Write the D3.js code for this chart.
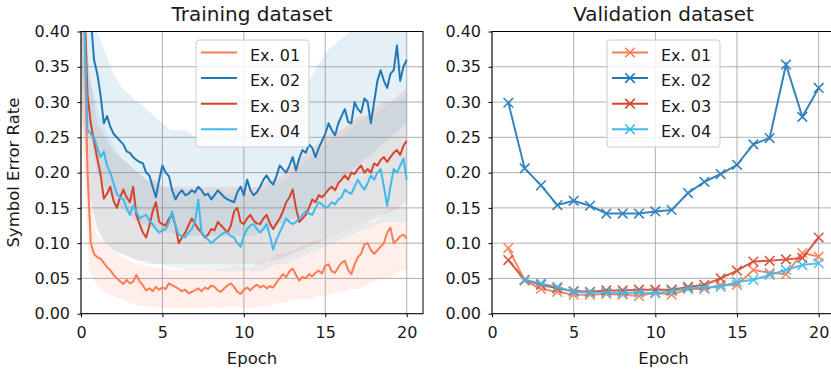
<!DOCTYPE html>
<html>
<head>
<meta charset="utf-8">
<script src="https://cdn.jsdelivr.net/npm/d3@7"></script>
<style>
  body { margin: 0; background: #fff; }
  svg text { font-family: "DejaVu Sans", sans-serif; fill: #1a1a1a; }
</style>
</head>
<body>
<svg id="chart" width="831" height="372"></svg>
<script>
// series names + colours
const names = ['Ex. 01', 'Ex. 02', 'Ex. 03', 'Ex. 04']
const colors = ['#fb7c55', '#1f78b8', '#d5442b', '#3fbaea']
const yTicks = [0, 0.05, 0.1, 0.15, 0.2, 0.25, 0.3, 0.35, 0.4]
const xTicks = [0, 5, 10, 15, 20]

// training, smoothed curves, one value every 0.2 epoch (0 .. 20)
const train01 = [0.60, 0.42, 0.20, 0.10, 0.085, 0.08, 0.078, 0.072, 0.066, 0.062,
  0.055, 0.05, 0.046, 0.042, 0.048, 0.043, 0.045, 0.055, 0.046, 0.04,
  0.033, 0.036, 0.032, 0.038, 0.034, 0.037, 0.035, 0.043, 0.04, 0.038,
  0.035, 0.032, 0.034, 0.029, 0.031, 0.033, 0.036, 0.032, 0.037, 0.035,
  0.04, 0.038, 0.033, 0.031, 0.036, 0.04, 0.043, 0.038, 0.031, 0.028,
  0.034, 0.037, 0.033, 0.038, 0.041, 0.037, 0.04, 0.036, 0.039, 0.037,
  0.044, 0.05, 0.056, 0.052, 0.06, 0.064, 0.055, 0.047, 0.052, 0.05,
  0.056, 0.053, 0.058, 0.061, 0.057, 0.068, 0.07, 0.06, 0.058, 0.066,
  0.072, 0.075, 0.062, 0.056, 0.07, 0.08, 0.085, 0.098, 0.10, 0.09,
  0.085, 0.09, 0.095, 0.10, 0.115, 0.122, 0.10, 0.104, 0.11, 0.112, 0.107]
const train02 = [0.70, 0.60, 0.50, 0.42, 0.36, 0.34, 0.31, 0.27, 0.28, 0.265,
  0.255, 0.25, 0.245, 0.24, 0.23, 0.228, 0.222, 0.218, 0.215, 0.213,
  0.20, 0.196, 0.18, 0.165, 0.19, 0.21, 0.20, 0.195, 0.175, 0.162,
  0.17, 0.175, 0.168, 0.17, 0.175, 0.172, 0.18, 0.175, 0.168, 0.17,
  0.162, 0.168, 0.175, 0.17, 0.165, 0.162, 0.16, 0.158, 0.172, 0.18,
  0.168, 0.19, 0.175, 0.168, 0.172, 0.18, 0.19, 0.196, 0.188, 0.183,
  0.195, 0.21, 0.205, 0.20, 0.21, 0.222, 0.203, 0.22, 0.232, 0.228,
  0.24, 0.235, 0.222, 0.235, 0.245, 0.255, 0.27, 0.26, 0.253, 0.27,
  0.28, 0.29, 0.272, 0.27, 0.30, 0.29, 0.285, 0.305, 0.30, 0.27,
  0.30, 0.33, 0.345, 0.33, 0.32, 0.34, 0.345, 0.38, 0.33, 0.35, 0.36]
const train03 = [0.60, 0.45, 0.31, 0.27, 0.245, 0.22, 0.198, 0.163, 0.17, 0.18,
  0.16, 0.15, 0.165, 0.176, 0.165, 0.158, 0.18, 0.14, 0.127, 0.115,
  0.108, 0.125, 0.145, 0.158, 0.13, 0.127, 0.125, 0.135, 0.14, 0.125,
  0.10, 0.108, 0.115, 0.125, 0.135, 0.128, 0.12, 0.115, 0.108, 0.112,
  0.12, 0.118, 0.13, 0.125, 0.12, 0.115, 0.125, 0.145, 0.15, 0.13,
  0.127, 0.135, 0.14, 0.132, 0.128, 0.127, 0.135, 0.14, 0.128, 0.12,
  0.128, 0.135, 0.145, 0.158, 0.165, 0.176, 0.15, 0.13, 0.135, 0.14,
  0.15, 0.162, 0.158, 0.168, 0.165, 0.17, 0.176, 0.18, 0.175, 0.185,
  0.19, 0.196, 0.19, 0.20, 0.198, 0.205, 0.21, 0.20, 0.205, 0.20,
  0.213, 0.21, 0.218, 0.222, 0.215, 0.222, 0.228, 0.232, 0.225, 0.238, 0.245]
const train04 = [0.60, 0.42, 0.26, 0.255, 0.25, 0.235, 0.222, 0.23, 0.21, 0.20,
  0.185, 0.17, 0.165, 0.162, 0.15, 0.14, 0.153, 0.145, 0.135, 0.138,
  0.14, 0.132, 0.127, 0.12, 0.115, 0.118, 0.12, 0.13, 0.145, 0.125,
  0.112, 0.11, 0.108, 0.115, 0.12, 0.13, 0.162, 0.115, 0.11, 0.105,
  0.10, 0.104, 0.108, 0.112, 0.115, 0.115, 0.11, 0.108, 0.10, 0.095,
  0.11, 0.12, 0.125, 0.127, 0.12, 0.115, 0.12, 0.127, 0.11, 0.091,
  0.105, 0.115, 0.125, 0.135, 0.13, 0.127, 0.13, 0.135, 0.14, 0.145,
  0.142, 0.14, 0.15, 0.158, 0.155, 0.15, 0.152, 0.158, 0.155, 0.162,
  0.165, 0.176, 0.172, 0.17, 0.18, 0.19, 0.182, 0.176, 0.185, 0.196,
  0.19, 0.20, 0.205, 0.18, 0.153, 0.18, 0.205, 0.20, 0.21, 0.22, 0.19]

// training, spread of raw batches, every 0.5 epoch (0 .. 20)
const lo01 = [0.30, 0.06, 0.04, 0.03, 0.025, 0.02, 0.015, 0.012, 0.01, 0.01,
  0.008, 0.008, 0.008, 0.008, 0.008, 0.008, 0.01, 0.008, 0.01, 0.01,
  0.008, 0.008, 0.01, 0.01, 0.015, 0.015, 0.02, 0.02, 0.02, 0.025,
  0.025, 0.03, 0.03, 0.035, 0.035, 0.04, 0.045, 0.05, 0.05, 0.06, 0.06]
const hi01 = [0.45, 0.17, 0.11, 0.10, 0.09, 0.08, 0.075, 0.07, 0.068, 0.065,
  0.065, 0.062, 0.062, 0.065, 0.065, 0.065, 0.065, 0.062, 0.065, 0.07,
  0.065, 0.065, 0.075, 0.075, 0.085, 0.085, 0.09, 0.095, 0.10, 0.105,
  0.105, 0.11, 0.115, 0.12, 0.125, 0.13, 0.13, 0.14, 0.15, 0.15, 0.15]
const lo02 = [0.35, 0.26, 0.20, 0.18, 0.16, 0.15, 0.14, 0.13, 0.125, 0.12,
  0.115, 0.115, 0.11, 0.11, 0.11, 0.11, 0.11, 0.11, 0.11, 0.11,
  0.11, 0.11, 0.115, 0.12, 0.125, 0.13, 0.135, 0.14, 0.15, 0.16,
  0.17, 0.18, 0.19, 0.20, 0.21, 0.22, 0.23, 0.24, 0.25, 0.26, 0.27]
const hi02 = [0.50, 0.44, 0.40, 0.37, 0.34, 0.32, 0.31, 0.30, 0.29, 0.28,
  0.27, 0.26, 0.26, 0.26, 0.25, 0.25, 0.25, 0.25, 0.26, 0.26,
  0.26, 0.26, 0.27, 0.28, 0.29, 0.30, 0.31, 0.32, 0.33, 0.35,
  0.37, 0.38, 0.39, 0.40, 0.41, 0.42, 0.43, 0.44, 0.45, 0.45, 0.45]
const lo03 = [0.30, 0.17, 0.12, 0.10, 0.09, 0.085, 0.08, 0.075, 0.075, 0.07,
  0.07, 0.07, 0.07, 0.07, 0.07, 0.07, 0.07, 0.07, 0.07, 0.07,
  0.07, 0.07, 0.07, 0.075, 0.075, 0.08, 0.085, 0.09, 0.095, 0.10,
  0.105, 0.11, 0.115, 0.12, 0.125, 0.13, 0.135, 0.14, 0.145, 0.15, 0.16]
const hi03 = [0.50, 0.34, 0.27, 0.25, 0.23, 0.22, 0.21, 0.20, 0.19, 0.19,
  0.18, 0.18, 0.18, 0.18, 0.18, 0.18, 0.18, 0.18, 0.18, 0.18,
  0.18, 0.18, 0.18, 0.19, 0.19, 0.20, 0.21, 0.22, 0.23, 0.24,
  0.25, 0.26, 0.26, 0.27, 0.28, 0.28, 0.29, 0.30, 0.30, 0.31, 0.32]
const lo04 = [0.30, 0.17, 0.12, 0.10, 0.09, 0.085, 0.08, 0.075, 0.07, 0.07,
  0.07, 0.065, 0.065, 0.065, 0.065, 0.065, 0.065, 0.06, 0.06, 0.06,
  0.06, 0.06, 0.06, 0.065, 0.07, 0.07, 0.075, 0.08, 0.085, 0.09,
  0.095, 0.10, 0.105, 0.11, 0.115, 0.12, 0.125, 0.13, 0.13, 0.13, 0.13]
const hi04 = [0.50, 0.34, 0.29, 0.26, 0.24, 0.22, 0.21, 0.20, 0.19, 0.185,
  0.18, 0.18, 0.175, 0.175, 0.175, 0.17, 0.17, 0.17, 0.17, 0.17,
  0.17, 0.17, 0.175, 0.18, 0.185, 0.19, 0.20, 0.21, 0.22, 0.23,
  0.24, 0.25, 0.25, 0.26, 0.27, 0.28, 0.28, 0.29, 0.30, 0.30, 0.31]

// validation, one value per epoch
const valEpochs = [1, 2, 3, 4, 5, 6, 7, 8, 9, 10, 11, 12, 13, 14, 15, 16, 17, 18, 19, 20]
const val01 = [0.093, 0.047, 0.035, 0.031, 0.027, 0.027, 0.028, 0.027, 0.025, 0.030,
  0.027, 0.035, 0.035, 0.041, 0.041, 0.062, 0.058, 0.056, 0.086, 0.081]
const val02 = [0.299, 0.206, 0.182, 0.154, 0.160, 0.153, 0.142, 0.142, 0.142, 0.145,
  0.147, 0.171, 0.187, 0.198, 0.211, 0.240, 0.249, 0.353, 0.279, 0.320]
const val03 = [0.076, 0.048, 0.041, 0.036, 0.032, 0.031, 0.033, 0.033, 0.034, 0.034,
  0.034, 0.038, 0.041, 0.050, 0.061, 0.074, 0.075, 0.077, 0.079, 0.108]
// Ex. 04 has no point at epoch 1
const val04 = [null, 0.048, 0.043, 0.038, 0.031, 0.030, 0.030, 0.029, 0.030, 0.029,
  0.032, 0.036, 0.037, 0.038, 0.045, 0.048, 0.055, 0.062, 0.069, 0.0715]

const trainLines = [train01, train02, train03, train04]
const trainLo = [lo01, lo02, lo03, lo04]
const trainHi = [hi01, hi02, hi03, hi04]
const valLines = [val01, val02, val03, val04]

const svg = d3.select('#chart')
const yTop = 31.5, yBottom = 313.7

// epoch grid for an array that spans 0..20
const onGrid = (arr) => arr.map((v, i) => [i * 20 / (arr.length - 1), v])

function drawAxes(left, right, title, id) {
  const x = d3.scaleLinear().domain([0, 21]).range([left, right])
  const y = d3.scaleLinear().domain([0, 0.4]).range([yBottom, yTop])
  const g = svg.append('g')

  svg.append('clipPath').attr('id', id)
      .append('rect')
      .attr('x', left).attr('y', yTop)
      .attr('width', right - left).attr('height', yBottom - yTop)

  // grid
  g.selectAll('line.gx').data(xTicks).enter().append('line')
      .attr('x1', (d) => x(d)).attr('x2', (d) => x(d))
      .attr('y1', yTop).attr('y2', yBottom)
      .attr('stroke', '#b0b0b0').attr('stroke-width', 1)
  g.selectAll('line.gy').data(yTicks).enter().append('line')
      .attr('x1', left).attr('x2', right)
      .attr('y1', (d) => y(d)).attr('y2', (d) => y(d))
      .attr('stroke', '#b0b0b0').attr('stroke-width', 1)

  const plot = svg.append('g').attr('clip-path', `url(#${id})`)

  const xAxis = svg.append('g').attr('transform', `translate(0,${yBottom})`)
      .call(d3.axisBottom(x).tickValues(xTicks).tickFormat(d3.format('d'))
          .tickSize(3.5).tickPadding(9.5))
  const yAxis = svg.append('g').attr('transform', `translate(${left},0)`)
      .call(d3.axisLeft(y).tickValues(yTicks).tickFormat(d3.format('.2f'))
          .tickSize(3.5).tickPadding(7.5))
  ;[xAxis, yAxis].forEach((a) => {
    a.select('.domain').remove()
    a.selectAll('.tick line').attr('stroke', '#000').attr('stroke-width', 1)
    a.selectAll('.tick text').style('font-size', '16px')
        .style('font-family', '"DejaVu Sans", sans-serif').attr('fill', '#1a1a1a')
  })

  // spines
  svg.append('rect').attr('x', left).attr('y', yTop)
      .attr('width', right - left).attr('height', yBottom - yTop)
      .attr('fill', 'none').attr('stroke', '#000').attr('stroke-width', 1)

  svg.append('text').attr('x', (left + right) / 2).attr('y', 21)
      .attr('text-anchor', 'middle').style('font-size', '20px').text(title)
  svg.append('text').attr('x', (left + right) / 2).attr('y', 364)
      .attr('text-anchor', 'middle').style('font-size', '16.5px').text('Epoch')
  return {x, y, plot}
}

// ---- training panel
const L = drawAxes(81, 423, 'Training dataset', 'clipL')
const area = d3.area().x((d) => L.x(d[0])).y0((d) => L.y(d[1])).y1((d) => L.y(d[2]))
const lineL = d3.line().x((d) => L.x(d[0])).y((d) => L.y(d[1]))

trainLo.forEach((lo, k) => {
  const band = onGrid(lo).map((p, i) => [p[0], p[1], trainHi[k][i]])
  L.plot.append('path').datum(band)
      .attr('d', area)
      .attr('fill', colors[k]).attr('fill-opacity', 0.12)
})
trainLines.forEach((arr, k) => {
  L.plot.append('path').datum(onGrid(arr))
      .attr('d', lineL)
      .attr('fill', 'none').attr('stroke', colors[k])
      .attr('stroke-width', 2).attr('stroke-linejoin', 'round')
})

svg.append('text')
    .attr('transform', 'translate(19,172.6) rotate(-90)')
    .attr('text-anchor', 'middle').style('font-size', '16.5px')
    .text('Symbol Error Rate')

// ---- validation panel
const R = drawAxes(492, 835, 'Validation dataset', 'clipR')
const lineR = d3.line().defined((d) => d[1] != null)
    .x((d) => R.x(d[0])).y((d) => R.y(d[1]))

function cross(sel, cx, cy, r, color) {
  sel.append('path')
      .attr('d', `M${cx - r},${cy - r}L${cx + r},${cy + r}M${cx - r},${cy + r}L${cx + r},${cy - r}`)
      .attr('stroke', color).attr('stroke-width', 1.6).attr('fill', 'none')
}

valLines.forEach((arr, k) => {
  const pts = arr.map((v, i) => [valEpochs[i], v])
  const g = R.plot.append('g').attr('opacity', 0.9)
  g.append('path').datum(pts).attr('d', lineR)
      .attr('fill', 'none').attr('stroke', colors[k]).attr('stroke-width', 2)
  pts.filter((p) => p[1] != null)
      .forEach((p) => cross(g, R.x(p[0]), R.y(p[1]), 4.8, colors[k]))
})

// ---- legends
function legend(x0, w, markers) {
  const g = svg.append('g')
  g.append('rect').attr('x', x0).attr('y', 40).attr('width', w).attr('height', 107)
      .attr('rx', 3).attr('fill', '#fff').attr('fill-opacity', 0.8)
      .attr('stroke', '#cccccc').attr('stroke-width', 1)
  names.forEach((n, k) => {
    const yy = 52.5 + k * 25.6
    g.append('line').attr('x1', x0 + 5).attr('x2', x0 + 41)
        .attr('y1', yy).attr('y2', yy)
        .attr('stroke', colors[k]).attr('stroke-width', 2)
    if (markers) cross(g, x0 + 23, yy, 4.8, colors[k])
    g.append('text').attr('x', x0 + 54).attr('y', yy + 8)
        .style('font-size', '16px').text(n)
  })
}
legend(196, 113, false)
legend(607, 113, true)
</script>
</body>
</html>
